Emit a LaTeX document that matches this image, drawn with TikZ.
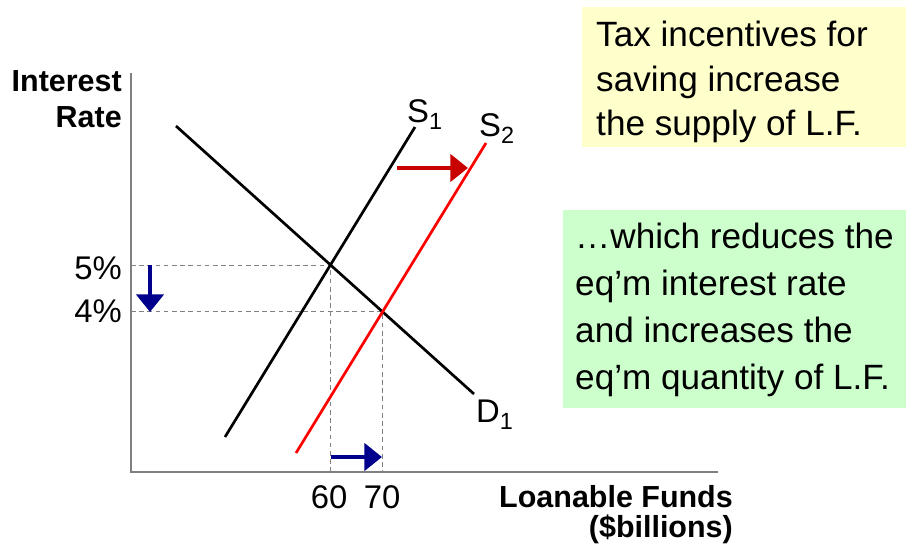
\documentclass[tikz,border=0pt]{standalone}
\usepackage{fontspec}
\setmainfont{Liberation Sans}
\usetikzlibrary{arrows.meta, intersections}
\definecolor{notey}{RGB}{255,255,204}
\definecolor{noteg}{RGB}{204,255,204}
\definecolor{shiftblue}{RGB}{0,0,140}
\definecolor{shiftred}{RGB}{200,0,0}
\tikzset{
  box/.style={fill=#1, draw=none, inner sep=0pt},
  note/.style={font=\fontsize{30}{#1}\selectfont, align=left, inner sep=0pt},
  note/.default=38,
  axisline/.style={draw=gray, line width=1.2pt},
  sdcurve/.style={line width=2.3pt},
  guide/.style={draw=gray, dash pattern=on 4pt off 3pt, line width=0.6pt},
  movearrow/.style={line width=3.6pt, -{Triangle[length=15pt, width=23pt]}},
  lbl/.style={font=\fontsize{28}{32}\selectfont, inner sep=0pt},
  axlbl/.style={font=\fontsize{26}{#1}\selectfont\bfseries, align=right, inner sep=0pt},
}
\newcommand{\crvname}[2]{#1\raisebox{-6pt}{\fontsize{20}{20}\selectfont #2}}

\begin{document}
\begin{tikzpicture}[x=0.03cm, y=-0.03cm]
    \useasboundingbox (0,0) rectangle (906,550);
    % notes on the right
    \node (taxbox) [box=notey, minimum width=9.72cm, minimum height=4.2cm, anchor=north west] at (582,7) {};
    \node (taxtext) [note, anchor=north west] at (596,21) {Tax incentives for\\saving increase\\the supply of L.F.};
    \node (eqbox) [box=noteg, minimum width=10.29cm, minimum height=5.94cm, anchor=north west] at (563,210) {};
    \node (eqtext) [note=40, anchor=north west] at (575,223) {…which reduces the\\eq’m interest rate\\and increases the\\eq’m quantity of L.F.};

    % axes
    \coordinate (origin) at (131,472);
    \coordinate (ytop) at (131,73);
    \coordinate (xend) at (718,472);
    \draw[axisline] (ytop) -- (origin) -- (xend);
    \node (ylab) [axlbl=31, anchor=north east] at (122,70) {Interest\\Rate};
    \node (xlab) [axlbl=26, anchor=north east] at (733,485) {Loanable Funds\\(\$billions)};

    % curves
    \coordinate (dtop) at (176,126);
    \coordinate (dbot) at (474,394);
    \coordinate (s1bot) at (225,437);
    \coordinate (s1top) at (415,127);
    \coordinate (s2bot) at (296,453);
    \coordinate (s2top) at (486,143);
    \path[name path=dem] (dtop) -- (dbot);
    \path[name path=sup1] (s1bot) -- (s1top);
    \path[name path=sup2] (s2bot) -- (s2top);
    \path[name intersections={of=dem and sup1, by=eqa}];
    \path[name intersections={of=dem and sup2, by=eqb}];
    \draw[guide] (eqa -| origin) -- (eqa) -- (eqa |- origin);
    \draw[guide] (eqb -| origin) -- (eqb) -- (eqb |- origin);
    \draw[sdcurve] (dtop) -- (dbot);
    \draw[sdcurve] (s1bot) -- (s1top);
    \draw[sdcurve, red] (s2bot) -- (s2top);
    \node (dlab) [lbl, anchor=base west] at (476,422) {\crvname{D}{1}};
    \node (s1lab) [lbl, anchor=base west] at (407,122) {\crvname{S}{1}};
    \node (s2lab) [lbl, anchor=base west] at (479,136) {\crvname{S}{2}};

    % tick labels
    \node (hi) [lbl, anchor=base east] at (122,279) {5\%};
    \node (lo) [lbl, anchor=base east] at (122,322) {4\%};
    \node (qa) [lbl, anchor=base] at (329,508) {60};
    \node (qb) [lbl, anchor=base] at (382,508) {70};

    % shifts
    \coordinate (rsa) at (397,168);
    \coordinate (rsb) at (468,168);
    \coordinate (dna) at (150,265);
    \coordinate (dnb) at (150,312);
    \coordinate (rta) at (331,457);
    \coordinate (rtb) at (382,457);
    \draw[movearrow, shiftred] (rsa) -- (rsb);
    \draw[movearrow, shiftblue] (dna) -- (dnb);
    \draw[movearrow, shiftblue] (rta) -- (rtb);
  \end{tikzpicture}
\end{document}
